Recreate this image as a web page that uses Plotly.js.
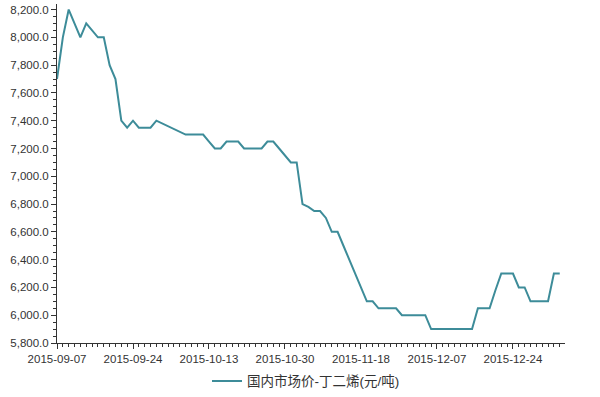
<!DOCTYPE html>
<html>
<head>
<meta charset="utf-8">
<script src="https://cdn.plot.ly/plotly-3.0.1.min.js"></script>
<style>html,body{margin:0;padding:0;background:#fff;}#chart{width:600px;height:397px;}</style>
</head>
<body>
<div id="chart"></div>
<script>
const dates = [
  '2015-09-07','2015-09-08','2015-09-09','2015-09-10','2015-09-11','2015-09-14','2015-09-15','2015-09-16','2015-09-17','2015-09-18',
  '2015-09-21','2015-09-22','2015-09-23','2015-09-24','2015-09-25','2015-09-28','2015-09-29','2015-09-30',
  '2015-10-01','2015-10-02','2015-10-05','2015-10-06','2015-10-07','2015-10-08','2015-10-09','2015-10-12','2015-10-13','2015-10-14',
  '2015-10-15','2015-10-16','2015-10-19','2015-10-20','2015-10-21','2015-10-22','2015-10-23','2015-10-26','2015-10-27','2015-10-28',
  '2015-10-29','2015-10-30',
  '2015-11-02','2015-11-03','2015-11-04','2015-11-05','2015-11-06','2015-11-09','2015-11-10','2015-11-11','2015-11-12','2015-11-13',
  '2015-11-16','2015-11-17','2015-11-18','2015-11-19','2015-11-20','2015-11-23','2015-11-24','2015-11-25','2015-11-26','2015-11-27',
  '2015-11-30',
  '2015-12-01','2015-12-02','2015-12-03','2015-12-04','2015-12-07','2015-12-08','2015-12-09','2015-12-10','2015-12-11','2015-12-14',
  '2015-12-15','2015-12-16','2015-12-17','2015-12-18','2015-12-21','2015-12-22','2015-12-23','2015-12-24','2015-12-25','2015-12-28',
  '2015-12-29','2015-12-30','2015-12-31',
  '2016-01-01','2016-01-04','2016-01-05'
];
const prices = [
  7700, 8000, 8200, 8100, 8000, 8100, 8050, 8000, 8000, 7800,
  7700, 7400, 7350, 7400, 7350, 7350, 7350, 7400, 7380, 7360,
  7340, 7320, 7300, 7300, 7300, 7300, 7250, 7200, 7200, 7250,
  7250, 7250, 7200, 7200, 7200, 7200, 7250, 7250, 7200, 7150,
  7100, 7100, 6800, 6780, 6750, 6750, 6700, 6600, 6600, 6500,
  6400, 6300, 6200, 6100, 6100, 6050, 6050, 6050, 6050, 6000,
  6000, 6000, 6000, 6000, 5900, 5900, 5900, 5900, 5900, 5900,
  5900, 5900, 6050, 6050, 6050, 6180, 6300, 6300, 6300, 6200,
  6200, 6100, 6100, 6100, 6100, 6300, 6300
];
const tickLabels = ['2015-09-07','2015-09-24','2015-10-13','2015-10-30','2015-11-18','2015-12-07','2015-12-24'];
const seriesName = '国内市场价-丁二烯(元/吨)';

const fontFam = 'Arial, "Liberation Sans", "Noto Sans CJK SC", sans-serif';

// position of each trading day on an evenly spaced axis (one slot per row)
const xPos = dates.map((d, i) => i);
const tickPos = tickLabels.map(d => dates.indexOf(d));

Plotly.newPlot('chart', [{
  type: 'scatter',
  mode: 'lines',
  x: xPos,
  y: prices,
  text: dates,
  hovertemplate: '%{text}: %{y}<extra></extra>',
  name: seriesName,
  line: {color: '#3d8c99', width: 2}
}], {
  width: 600, height: 397,
  margin: {l: 57, r: 35, t: 4, b: 54},
  paper_bgcolor: '#fff', plot_bgcolor: '#fff',
  font: {family: fontFam, size: 11.5, color: '#333'},
  showlegend: true,
  legend: {orientation: 'h', x: 0.51, xanchor: 'center', xref: 'container',
           y: 0.04, yanchor: 'middle', yref: 'container',
           font: {family: fontFam, size: 13.5, color: '#333'}},
  xaxis: {
    type: 'linear',
    range: [0, 86.9],
    tickmode: 'array', tickvals: tickPos, ticktext: tickLabels,
    ticks: 'outside', ticklen: 5, tickcolor: '#333', tickwidth: 1,
    minor: {ticks: 'outside', ticklen: 3, tickcolor: '#333', tickmode: 'linear', dtick: 1, tick0: 0},
    showline: true, linecolor: '#333', linewidth: 1,
    showgrid: false, zeroline: false,
    tickfont: {size: 11.5, color: '#333'}
  },
  yaxis: {
    range: [5800, 8240],
    tickmode: 'linear', tick0: 5800, dtick: 200,
    tickformat: ',.1f',
    ticks: 'outside', ticklen: 5, tickcolor: '#333', tickwidth: 1,
    minor: {ticks: 'outside', ticklen: 3, tickcolor: '#333', dtick: 50},
    showline: true, linecolor: '#333', linewidth: 1,
    showgrid: false, zeroline: false,
    tickfont: {size: 11.5, color: '#333'}
  }
}, {displayModeBar: false, staticPlot: true});
</script>
</body>
</html>
